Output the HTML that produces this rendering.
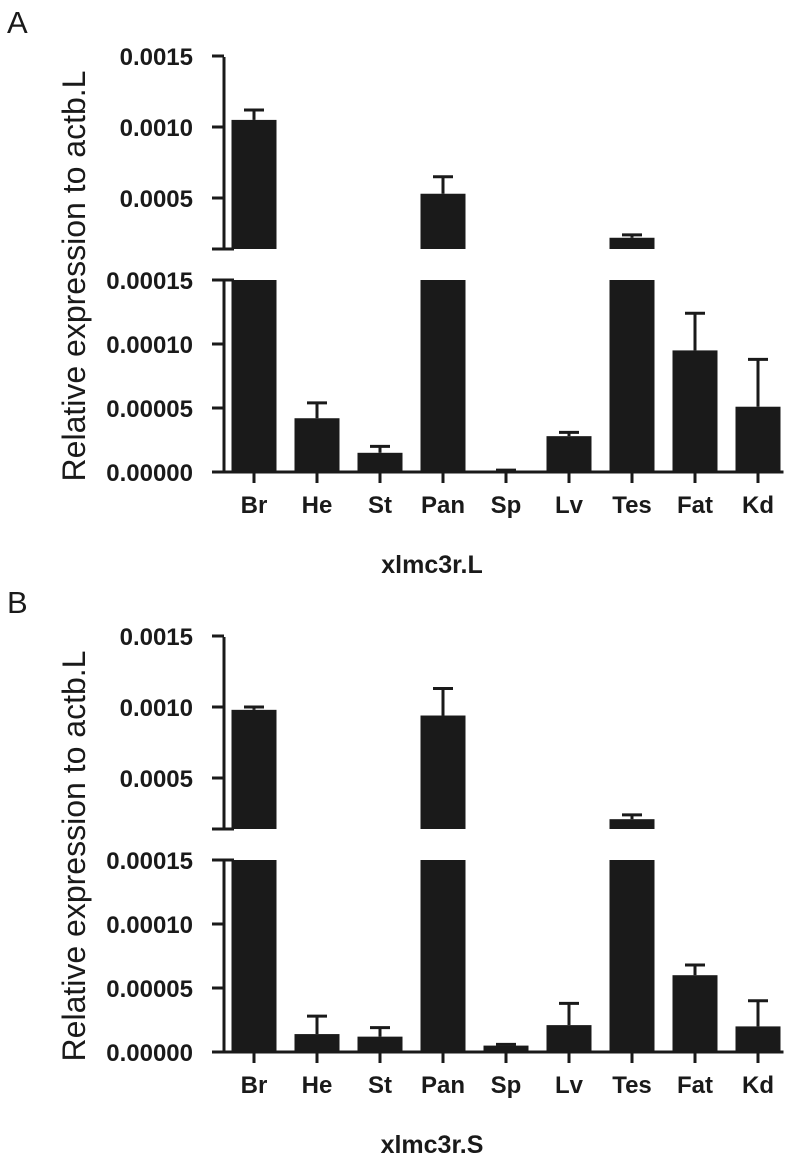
<!DOCTYPE html>
<html><head><meta charset="utf-8"><style>
html,body{margin:0;padding:0;background:#fff;}
svg{display:block;font-family:"Liberation Sans",Arial,sans-serif;}
</style></head><body>
<svg id="chart" width="794" height="1160" viewBox="0 0 794 1160" xmlns="http://www.w3.org/2000/svg"></svg>
<script>
const categories = ["Br","He","St","Pan","Sp","Lv","Tes","Fat","Kd"];
const valuesA = [0.00105,0.000042,0.000015,0.00053,0.000001,0.000028,0.00022,0.000095,0.000051];
const errorsA = [0.00007,0.000012,0.000005,0.00012,0.0000005,0.000003,0.00002,0.000029,0.000037];
const valuesB = [0.00098,0.000014,0.000012,0.00094,0.000005,0.000021,0.00021,0.00006,0.00002];
const errorsB = [0.00002,0.000014,0.000007,0.00019,0.000001,0.000017,0.00003,0.000008,0.00002];
const upperTicks = [0.0005,0.0010,0.0015];
const upperTickLabels = ["0.0005","0.0010","0.0015"];
const lowerTicks = [0,0.00005,0.0001,0.00015];
const lowerTickLabels = ["0.00000","0.00005","0.00010","0.00015"];
const panels = [
  {letter:"A", title:"xlmc3r.L", values:valuesA, errors:errorsA, dy:0},
  {letter:"B", title:"xlmc3r.S", values:valuesB, errors:errorsB, dy:580}
];
const NS="http://www.w3.org/2000/svg";
const svg=document.getElementById('chart');
function mk(tag,attrs,parent,text){const e=document.createElementNS(NS,tag);for(const k in attrs)e.setAttribute(k,attrs[k]);if(text!==undefined)e.textContent=text;(parent||svg).appendChild(e);return e;}
const C="#1a1a1a";
panels.forEach((p,pi)=>{
  const g=mk('g',{});
  
  
  const dy=p.dy;
  const axisX=224, upTop=57+dy, upBot=249+dy, loTop=280+dy, base=472+dy;
  const yU=v=>198+dy-(v-0.0005)/0.0005*71;
  const yL=v=>base-v/0.00005*64;
  const xC=i=>254+i*63;
  const bw=45;
  const lt=mk('text',{x:7,y:dy+33,'font-size':31,fill:C},g,p.letter);
  
  
  p.values.forEach((v,i)=>{
    const x=xC(i)-bw/2, e=p.errors[i];
    const bg=mk('g',{},g);
    
    
    let top, et;
    if(v>0.00015){
      mk('rect',{x:x,y:loTop,width:bw,height:base-loTop,fill:C},bg);
      top=yU(v);
      mk('rect',{x:x,y:top,width:bw,height:upBot-top,fill:C},bg);
      et=yU(v+e);
    } else {
      top=yL(v);
      mk('rect',{x:x,y:top,width:bw,height:base-top,fill:C},bg);
      et=yL(v+e);
    }
    mk('line',{x1:xC(i),x2:xC(i),y1:top,y2:et,stroke:C,'stroke-width':3},bg);
    mk('line',{x1:xC(i)-10,x2:xC(i)+10,y1:et,y2:et,stroke:C,'stroke-width':3},bg);
  });
  const ax=mk('g',{stroke:C,'stroke-width':3,fill:'none'},g);
  
  
  mk('line',{x1:axisX,x2:axisX,y1:upTop,y2:upBot},ax);
  mk('line',{x1:axisX-12,x2:axisX+10,y1:upBot,y2:upBot},ax);
  mk('line',{x1:axisX,x2:axisX,y1:loTop,y2:base},ax);
  mk('line',{x1:axisX-12,x2:axisX+10,y1:loTop,y2:loTop},ax);
  upperTicks.forEach((t,k)=>{
    const y=yU(t);
    mk('line',{x1:axisX-12,x2:axisX,y1:y,y2:y},ax);
    const tx=mk('text',{x:193,y:y+9,'font-size':24,'font-weight':'bold','text-anchor':'end',fill:C,stroke:'none'},g,upperTickLabels[k]);
    
    
  });
  lowerTicks.forEach((t,k)=>{
    const y=yL(t);
    mk('line',{x1:axisX-12,x2:axisX,y1:y,y2:y},ax);
    const tx=mk('text',{x:193,y:y+9,'font-size':24,'font-weight':'bold','text-anchor':'end',fill:C,stroke:'none'},g,lowerTickLabels[k]);
    
    
  });
  const xa=mk('g',{stroke:C,'stroke-width':3},g);
  
  
  mk('line',{x1:axisX-12,x2:xC(categories.length-1)+bw/2+3,y1:base,y2:base},xa);
  categories.forEach((c,i)=>{
    mk('line',{x1:xC(i),x2:xC(i),y1:base,y2:base+11},xa);
    const tx=mk('text',{x:xC(i),y:base+41,'font-size':24,'font-weight':'bold','text-anchor':'middle',fill:C,stroke:'none'},g,c);
    
    
  });
  const yt=mk('text',{x:0,y:0,'font-size':32,'text-anchor':'middle',fill:C,transform:'translate(85,'+(276+dy)+') rotate(-90)'},g,'Relative expression to actb.L');
  
  
  const xt=mk('text',{x:432,y:573+dy,'font-size':25,'font-weight':'bold','text-anchor':'middle',fill:C},g,p.title);
  
  
});
</script>
</body></html>
